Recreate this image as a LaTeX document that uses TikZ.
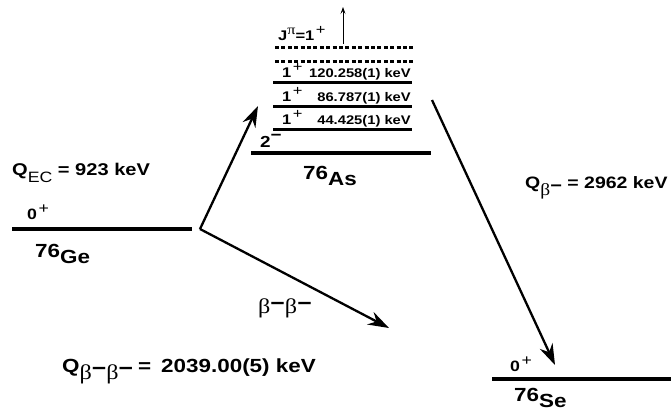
\documentclass[tikz,border=0pt]{standalone}
\usepackage{fontspec}
\setmainfont{Liberation Sans}[FakeStretch=1.18]
\newfontfamily\grk{Liberation Serif}[FakeStretch=1.15]
\usetikzlibrary{arrows.meta}
\newcommand{\bt}{{\mdseries\grk β}}
\newcommand{\nuc}[2]{\raisebox{5.5pt}{#1}#2}
\newcommand{\sub}[2][15]{\raisebox{-7pt}{\fontsize{#1}{#1}\selectfont #2}}
\newcommand{\pls}{\raisebox{.4em}{\mdseries\hspace{1.5pt}+}}
\newcommand{\mns}{\raisebox{.4em}{−}}

\begin{document}
\begin{tikzpicture}[x=1pt, y=-1pt, >={Stealth[length=21pt, width=14pt, inset=7pt]},
  lab/.style={anchor=base west, inner sep=0pt, font=\fontsize{#1}{#1}\selectfont\bfseries},
  gnd/.style={line width=3.5pt},
  exc/.style={line width=3pt},
  virt/.style={line width=3pt, dash pattern=on 4pt off 2.4pt},
  tr/.style={->, line width=2.3pt},
  up/.style={-{Stealth[length=7pt, width=5pt, inset=3pt]}, line width=0.8pt}]
\useasboundingbox (0,0) rectangle (671,413);
% levels
\draw[gnd] (12,229) -- (192,229);   % 76Ge
\draw[gnd] (251,153) -- (431,153);  % 76As
\draw[gnd] (492,379) -- (671,379);  % 76Se
\foreach \y in {129,106,82} \draw[exc] (273,\y) -- (412,\y);
\foreach \y in {61,47} \draw[virt] (275,\y) -- (413,\y);
% level labels
\node[lab=15] (ge0) at (27,219) {0\pls};
\node[lab=19] (ge)  at (35,263) {\nuc{76}{Ge}};
\node[lab=16] (as2) at (260,147) {2\mns};
\node[lab=19] (as)  at (303,185) {\nuc{76}{As}};
\node[lab=15] (se0) at (510,371) {0\pls};
\node[lab=19] (se)  at (514,407) {\nuc{76}{Se}};
\foreach \y/\e in {124/44.425, 101/86.787, 77/120.258} {
  \node[lab=14] (one\y) at (282,\y) {1\pls};
  \node[lab=12.5, anchor=base east] (en\y) at (411,\y) {\e(1) keV};
}
\node[lab=14] (jp) at (278,40) {J\raisebox{.4em}{\mdseries\grk π}=1\pls};
% Q values
\node[lab=17] (qec) at (12,175) {Q\sub{\mdseries EC} = 923 keV};
\node[lab=16.5] (qb) at (525,188) {Q\sub[17]{\bt\raisebox{4pt}{−}} = 2962 keV};
\node[lab=19] (qbb) at (62,372) {Q\sub[21]{\bt\raisebox{4pt}{−}\bt\raisebox{4pt}{−}}\hspace{5pt}=\hspace{10pt}2039.00(5) keV};
\node[lab=21] (bb)  at (258,313) {\bt\raisebox{3pt}{−}\bt\raisebox{3pt}{−}};
% transitions
\coordinate (v) at (200,229);
\coordinate (ectip) at (258,106);
\coordinate (bbtip) at (389,328);
\coordinate (bstart) at (432,100);
\coordinate (btip) at (555,365);
\coordinate (jbot) at (343,44);
\coordinate (jtop) at (343,7);
\draw[tr] (v) -- (ectip);
\draw[tr] (v) -- (bbtip);
\draw[tr] (bstart) -- (btip);
\draw[up] (jbot) -- (jtop);
\end{tikzpicture}
\end{document}
